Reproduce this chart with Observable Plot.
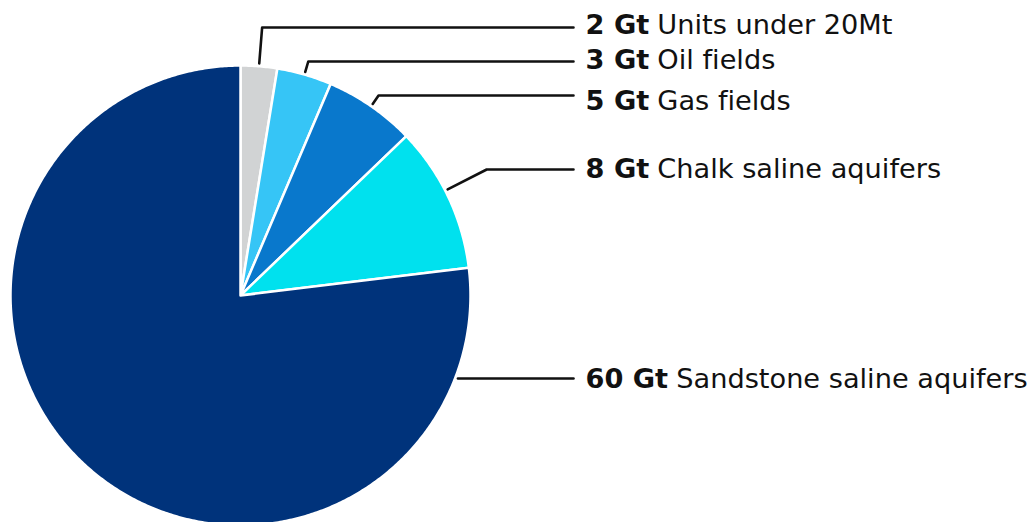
<!DOCTYPE html>
<html>
<head>
<meta charset="utf-8">
<script src="https://cdn.jsdelivr.net/npm/d3@7"></script>
<script src="https://cdn.jsdelivr.net/npm/@observablehq/plot@0.6"></script>
<style>
  html, body { margin: 0; padding: 0; background: #fff; }
  #chart svg { display: block; font-variant-ligatures: none; }
</style>
</head>
<body>
<div id="chart"></div>
<script>
// ---- data ----
const categories = ["Units under 20Mt", "Oil fields", "Gas fields", "Chalk saline aquifers", "Sandstone saline aquifers"];
const values = [2, 3, 5, 8, 60];
const valueLabels = ["2 Gt", "3 Gt", "5 Gt", "8 Gt", "60 Gt"];
const colors = ["#d1d3d4", "#36c5f6", "#0978cc", "#00e1ee", "#00337b"];

// ---- layout ----
const W = 1033, H = 522;
const cx = 240, cy = 295, R = 230;          // pie centre & radius (px)
const leaderYpx = [27, 61, 95, 169, 378];    // leader rows (px)
const textYpx = [25, 60, 101, 169, 379];     // text rows (px)
const leaderAngleShift = [0, 0, 0, -0.03, 0];
const leaderEndPx = 573, textXpx = 585;
const fontFamily = "'DejaVu Sans', sans-serif";
const fontSize = 27.2;

const toU = px => (px - cx) / R;     // px -> unit x
const toV = py => (cy - py) / R;     // px -> unit y

const arcs = d3.pie().sort(null).value(d => d)(values);

// slice polygons
const slicePts = [];
arcs.forEach((a, i) => {
  const cat = categories[i];
  slicePts.push({cat, x: 0, y: 0});
  const n = Math.max(2, Math.ceil((a.endAngle - a.startAngle) / (Math.PI / 360)));
  for (let k = 0; k <= n; k++) {
    const t = a.startAngle + (a.endAngle - a.startAngle) * k / n;
    slicePts.push({cat, x: Math.sin(t), y: Math.cos(t)});
  }
});

// leader lines
const leaderPts = [];
const rStart = 1.012;
arcs.forEach((a, i) => {
  const cat = categories[i];
  const v = toV(leaderYpx[i]);
  const endX = toU(leaderEndPx);
  if (i < categories.length - 1) {
    const m = (a.startAngle + a.endAngle) / 2 + leaderAngleShift[i];
    const r2 = v / Math.cos(m);
    leaderPts.push({cat, x: rStart * Math.sin(m), y: rStart * Math.cos(m)});
    leaderPts.push({cat, x: r2 * Math.sin(m), y: r2 * Math.cos(m)});
    leaderPts.push({cat, x: endX, y: v});
  } else {
    const sx = Math.sqrt(rStart * rStart - v * v);
    leaderPts.push({cat, x: sx, y: v});
    leaderPts.push({cat, x: endX, y: v});
  }
});

// label texts (measure bold part to place the regular part after it)
const ctx = document.createElement("canvas").getContext("2d");
ctx.font = `bold ${fontSize}px ${fontFamily}`;
const labels = categories.map((c, i) => {
  const w = ctx.measureText(valueLabels[i]).width + fontSize * 0.3;
  return {
    cat: c, value: valueLabels[i],
    x: toU(textXpx), x2: toU(textXpx + w), y: toV(textYpx[i])
  };
});

const chart = Plot.plot({
  width: W, height: H, margin: 0,
  style: {fontFamily, background: "#fff"},
  x: {domain: [toU(0), toU(W)], axis: null},
  y: {domain: [toV(H), toV(0)], axis: null},
  color: {domain: categories, range: colors},
  marks: [
    Plot.line(slicePts, {x: "x", y: "y", z: "cat", fill: "cat", stroke: "white", strokeWidth: 2.5, strokeLinejoin: "round", curve: "linear-closed"}),
    Plot.line(leaderPts, {x: "x", y: "y", z: "cat", stroke: "#111", strokeWidth: 2.6}),
    Plot.text(labels, {x: "x", y: "y", text: "value", textAnchor: "start", fontWeight: "bold", fontSize, fill: "#111"}),
    Plot.text(labels, {x: "x2", y: "y", text: "cat", textAnchor: "start", fontSize, fill: "#111"})
  ]
});
document.getElementById("chart").append(chart);
</script>
</body>
</html>
